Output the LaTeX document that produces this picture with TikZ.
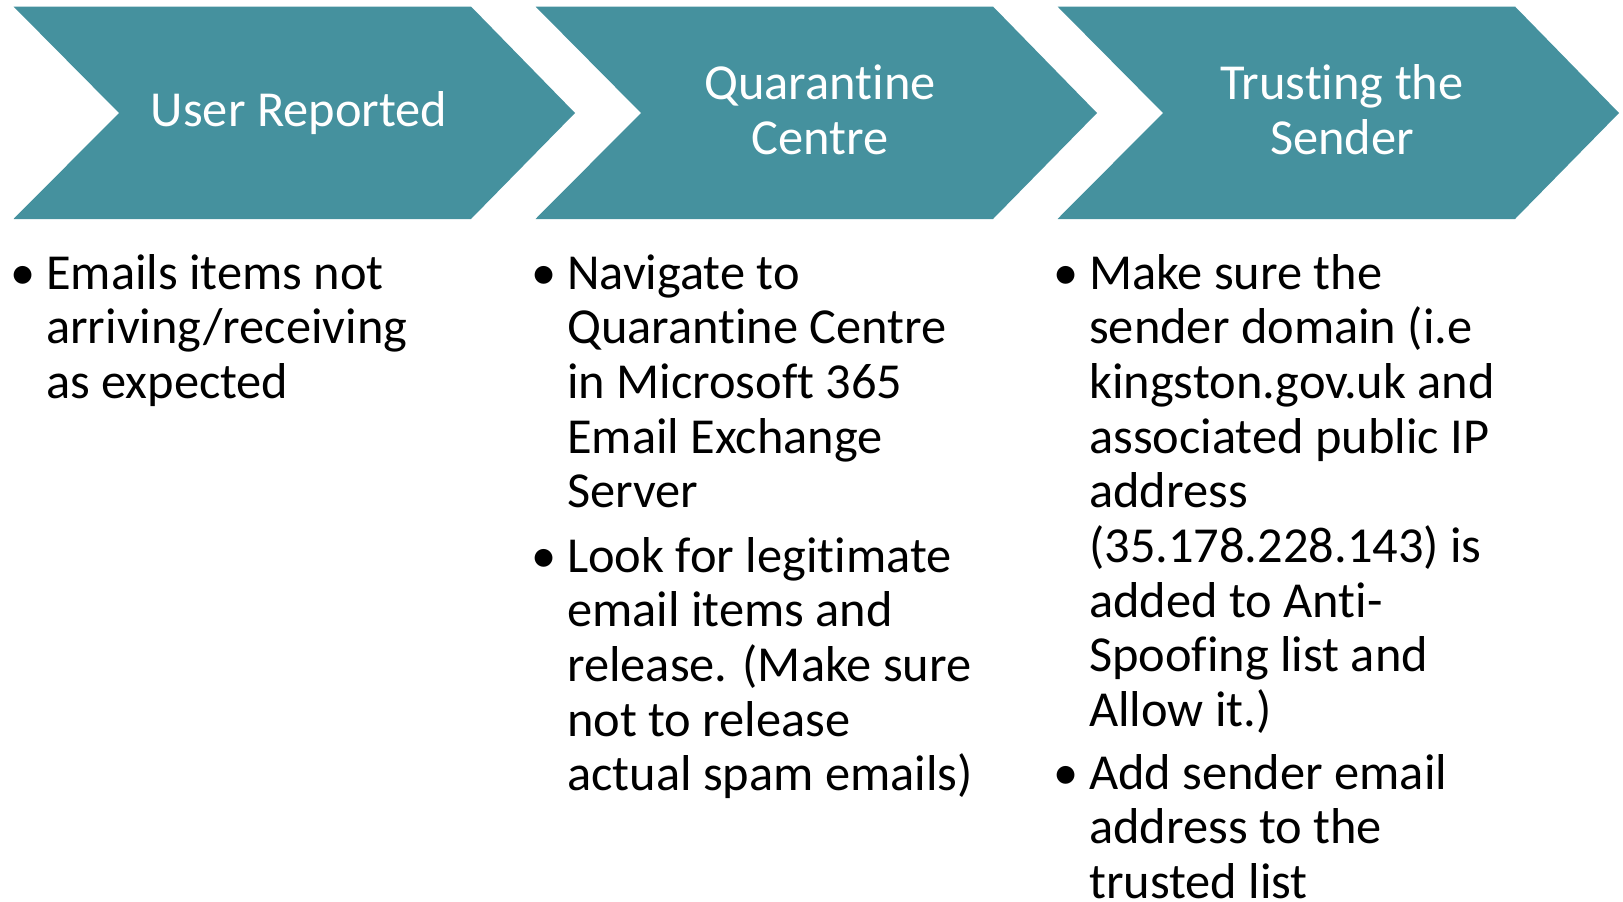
\documentclass[tikz,border=0pt]{standalone}
\usepackage{fontspec}
\setmainfont{Carlito}[Ligatures={NoCommon,NoContextual},RawFeature={-liga;-clig;-dlig}]
\definecolor{chevfill}{HTML}{45919E}
\newcommand{\bodyfont}{\fontsize{50.4}{54.7}\selectfont}
\newcommand{\blt}{\llap{\makebox[36pt][l]{•}}}
\newcommand{\lines}[1]{\begin{tabular}[t]{@{}l@{}}#1\end{tabular}}
\newcommand{\nolig}{\kern0pt }
\begin{document}
\begin{tikzpicture}[x=1pt,y=-1pt,
  chev/.style={fill=chevfill,draw=none},
  head/.style={text=white,font=\bodyfont,align=center,inner sep=0pt},
  body/.style={anchor=base west,inner sep=0pt,font=\bodyfont,text=black}]
\useasboundingbox (0,0) rectangle (1623,902);
\foreach \i in {0,1,2}{
  \fill[chev,shift={(522*\i,0)}] (13.5,6.5) -- (471,6.5) -- (575,113) -- (471,219) -- (13.5,219) -- (119,113) -- cycle;
}
\node[head] (h1) at (299,113.5) {User Reported};
\node[head] (h2) at (820,110) {Quarant\nolig ine\\Centre};
\node[head] (h3) at (1342,110) {Trust\nolig ing the\\Sender};

\node[body] (b1) at (46,289) {\blt\lines{Emails items not\\arriving/receiving\\as expected}};
\node[body] (b2) at (567,289) {\blt\lines{Navigate to\\Quarant\nolig ine Centre\\in Microsoft 365\\Email Exchange\\Server}};
\node[body] (b3) at (567,572) {\blt\lines{Look for legit\nolig imate\\email items and\\release. (Make sure\\not to release\\actual spam emails)}};
\node[body] (b4) at (1089,289) {\blt\lines{Make sure the\\sender domain (i.e\\kingston.gov.uk and\\associated public IP\\address\\(35.178.228.143) is\\added to Ant\nolig i-\\Spoof\nolig ing list and\\Allow it.)}};
\node[body] (b5) at (1089,789) {\blt\lines{Add sender email\\address to the\\trusted list}};
\end{tikzpicture}
\end{document}
